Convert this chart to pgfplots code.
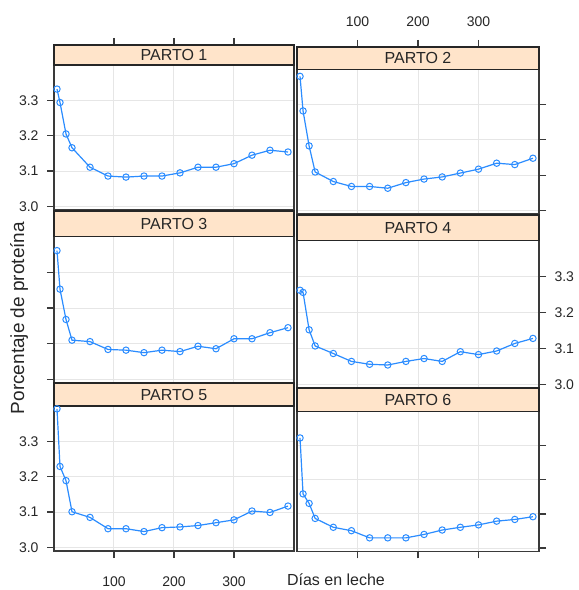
\documentclass[border=0pt]{standalone}
\usepackage{fontspec}
\setmainfont{Liberation Sans}
\usepackage{pgfplots}
\pgfplotsset{compat=1.18}
\definecolor{stripc}{HTML}{FFE4CA}
\definecolor{linec}{HTML}{2B8CFF}
\definecolor{framec}{HTML}{3A3A3A}
\definecolor{gridc}{HTML}{E6E6E6}
\definecolor{tickc}{HTML}{262626}

\pgfplotsset{panel/.style={
  scale only axis, anchor=south west, clip=false,
  xmin=0, xmax=400, ymin=2.99,
  xtick={100,200,300}, ytick={3.0,3.1,3.2,3.3},
  grid=major, major grid style={draw=gridc, line width=1pt},
  axis line style={draw=framec, line width=1.3pt},
  tick align=outside, major tick length=7pt,
  tick style={draw=framec, line width=1.2pt},
  tick label style={font=\fontsize{14}{15}\selectfont, text=tickc},
  /pgf/number format/assume math mode=true,
  y tick label style={/pgf/number format/.cd, fixed, fixed zerofill, precision=1, /tikz/.cd},
},
serie/.style={color=linec, line width=1.2pt, mark=o, mark size=3.2pt, mark options={line width=1pt}}
}

\newcommand{\panelstrip}[3]{%
  \filldraw[fill=stripc, draw=black!85, line width=1.2pt] (axis cs:0,3.40) rectangle (axis cs:400,#1);
  \node[font=\fontsize{16}{16}\selectfont, text=black!85] at (axis cs:200,#2) {#3};}

\pgfplotstableread{
x y
5 3.332
10 3.294
20 3.205
30 3.166
60 3.111
90 3.086
120 3.083
150 3.086
180 3.086
210 3.095
240 3.111
270 3.111
300 3.121
330 3.145
360 3.159
390 3.154
}\partoA
\pgfplotstableread{
x y
5 3.380
10 3.282
20 3.183
30 3.109
60 3.082
90 3.068
120 3.068
150 3.063
180 3.079
210 3.089
240 3.095
270 3.106
300 3.117
330 3.134
360 3.130
390 3.148
}\partoB
\pgfplotstableread{
x y
5 3.361
10 3.253
20 3.168
30 3.110
60 3.106
90 3.084
120 3.082
150 3.075
180 3.082
210 3.078
240 3.093
270 3.086
300 3.114
330 3.114
360 3.131
390 3.145
}\partoC
\pgfplotstableread{
x y
5 3.262
10 3.256
20 3.152
30 3.107
60 3.086
90 3.064
120 3.056
150 3.054
180 3.064
210 3.072
240 3.064
270 3.091
300 3.083
330 3.093
360 3.114
390 3.128
}\partoD
\pgfplotstableread{
x y
5 3.392
10 3.229
20 3.189
30 3.101
60 3.085
90 3.053
120 3.053
150 3.045
180 3.056
210 3.058
240 3.062
270 3.070
300 3.078
330 3.103
360 3.099
390 3.117
}\partoE
\pgfplotstableread{
x y
5 3.323
10 3.159
20 3.131
30 3.087
60 3.061
90 3.051
120 3.030
150 3.030
180 3.030
210 3.040
240 3.053
270 3.061
300 3.068
330 3.079
360 3.084
390 3.092
}\partoF

\begin{document}
\begin{tikzpicture}
\path[use as bounding box] (0pt,0pt) rectangle (579pt,590pt);

% PARTO 1
\begin{axis}[panel, at={(54pt,380pt)}, width=240pt, height=165pt, ymax=3.4566,
  ytick pos=left, yticklabel pos=left, yticklabel shift=5pt,
  xtick pos=top, xticklabels={,,}]
\addplot[serie] table[x=x,y=y] {\partoA};
\panelstrip{3.4566}{3.4283}{PARTO 1}
\end{axis}

% PARTO 2
\begin{axis}[panel, at={(297pt,376pt)}, width=242pt, height=167pt, ymax=3.4632,
  ytick pos=right, yticklabels={,,,},
  xtick pos=top, xticklabel pos=top, xticklabel shift=10pt]
\addplot[serie] table[x=x,y=y] {\partoB};
\panelstrip{3.4632}{3.4316}{PARTO 2}
\end{axis}

% PARTO 3
\begin{axis}[panel, at={(54pt,207pt)}, width=240pt, height=172pt, ymax=3.472,
  ytick pos=left, yticklabels={,,,},
  xtick pos=bottom, xticklabels={,,}, xtick style={draw=none}]
\addplot[serie] table[x=x,y=y] {\partoC};
\panelstrip{3.472}{3.436}{PARTO 3}
\end{axis}

% PARTO 4
\begin{axis}[panel, at={(297pt,202pt)}, width=242pt, height=173pt, ymax=3.4715,
  ytick pos=right, yticklabel pos=right, yticklabel shift=5pt,
  xtick pos=bottom, xticklabels={,,}, xtick style={draw=none}]
\addplot[serie] table[x=x,y=y] {\partoD};
\panelstrip{3.4715}{3.4358}{PARTO 4}
\end{axis}

% PARTO 5
\begin{axis}[panel, at={(54pt,39pt)}, width=240pt, height=168pt, ymax=3.465,
  ytick pos=left, yticklabel pos=left, yticklabel shift=5pt,
  xtick pos=bottom, xticklabel pos=bottom, xticklabel shift=15pt]
\addplot[serie] table[x=x,y=y] {\partoE};
\panelstrip{3.465}{3.4325}{PARTO 5}
\end{axis}

% PARTO 6
\begin{axis}[panel, at={(297pt,38.5pt)}, width=242pt, height=163.5pt, ymax=3.4695,
  ytick pos=right, yticklabels={,,,},
  xtick pos=bottom, xticklabels={,,}]
\addplot[serie] table[x=x,y=y] {\partoF};
\panelstrip{3.4695}{3.4348}{PARTO 6}
\end{axis}

\node[rotate=90, font=\fontsize{19}{19}\selectfont, text=tickc] at (19pt,272pt) {Porcentaje de proteína};
\node[font=\fontsize{16}{16}\selectfont, text=tickc] at (336pt,10pt) {Días en leche};
\end{tikzpicture}
\end{document}
